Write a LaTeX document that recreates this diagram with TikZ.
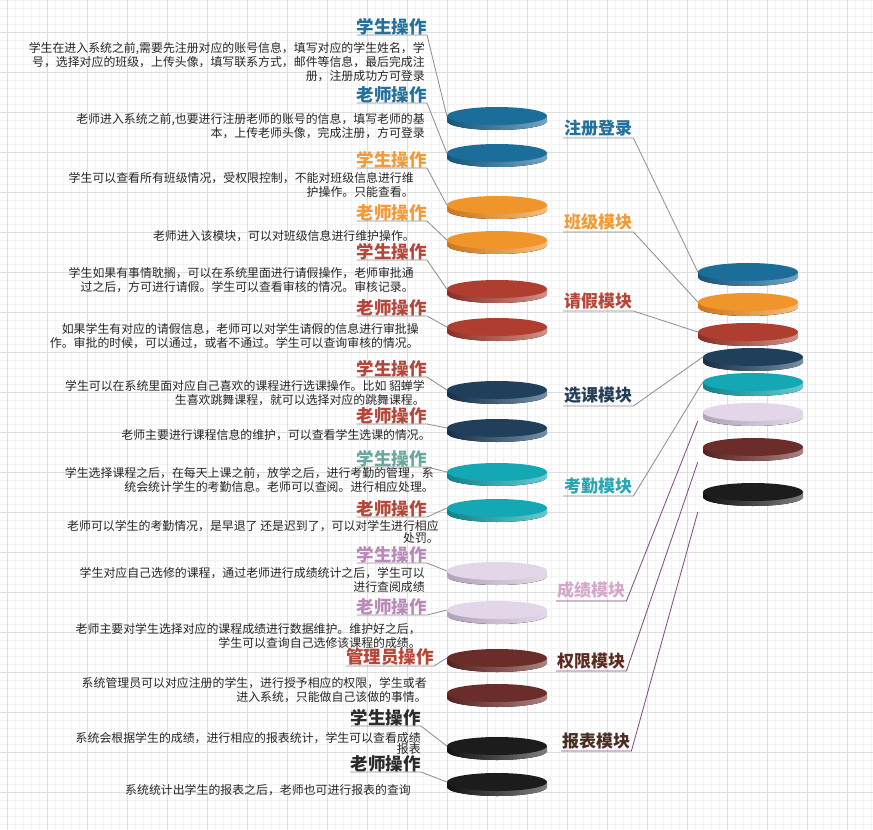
\documentclass[tikz,border=0pt]{standalone}
\usepackage{fontspec}
\newfontfamily\cjk{Noto Sans CJK SC}
\usetikzlibrary{shapes.geometric,calc}
\definecolor{cb}{RGB}{27,110,153}\definecolor{cbd}{RGB}{20,85,120}\definecolor{cbl}{RGB}{115,165,195}
\definecolor{co}{RGB}{240,149,42}\definecolor{cod}{RGB}{205,118,28}\definecolor{col}{RGB}{246,188,125}
\definecolor{cr}{RGB}{176,62,48}\definecolor{crd}{RGB}{138,46,36}\definecolor{crl}{RGB}{210,145,135}
\definecolor{cn}{RGB}{32,63,90}\definecolor{cnd}{RGB}{22,46,70}\definecolor{cnl}{RGB}{118,142,166}
\definecolor{ct}{RGB}{20,168,181}\definecolor{ctd}{RGB}{14,130,141}\definecolor{ctl}{RGB}{105,202,208}
\definecolor{cl}{RGB}{226,214,232}\definecolor{cld}{RGB}{178,163,184}\definecolor{cll}{RGB}{228,218,230}
\definecolor{cm}{RGB}{107,45,41}\definecolor{cmd}{RGB}{84,33,31}\definecolor{cml}{RGB}{170,130,130}
\definecolor{ck}{RGB}{28,28,28}\definecolor{ckd}{RGB}{17,17,17}\definecolor{ckl}{RGB}{125,125,125}
\definecolor{tb}{RGB}{35,112,156}\definecolor{to}{RGB}{242,154,53}\definecolor{tr}{RGB}{181,71,58}
\definecolor{tn}{RGB}{36,62,87}\definecolor{tt}{RGB}{43,165,179}\definecolor{tg}{RGB}{104,168,158}
\definecolor{tl}{RGB}{185,138,184}\definecolor{tp}{RGB}{212,168,203}\definecolor{tm}{RGB}{94,43,34}
\definecolor{tk}{RGB}{43,43,43}\definecolor{tw}{RGB}{74,46,37}
\definecolor{gmin}{RGB}{243,243,243}\definecolor{gmaj}{RGB}{222,222,222}
\tikzset{dsk/.style={ellipse,minimum width=100pt,minimum height=18pt,inner sep=0pt},
 ttl/.style={anchor=south east,inner sep=0pt,font=\cjk\bfseries\fontsize{17.5}{18}\selectfont},
 txt/.style={anchor=north east,inner sep=0pt,align=right,text=black!85,font=\cjk\fontsize{11.9}{14}\selectfont},
 mod/.style={anchor=south west,inner xsep=1pt,inner ysep=2pt,font=\cjk\bfseries\fontsize{17}{18}\selectfont},
 ldr/.style={draw=gray!90,line width=.8pt},ldp/.style={draw=violet!45!gray,line width=.8pt}}
\newcommand\cdisk[4]{\fill[left color=#4d,right color=#4l] (#2,#3+5) ellipse[x radius=50pt,y radius=9pt];
 \fill[left color=#4d,right color=#4l] (#2-50,#3) rectangle (#2+50,#3+5);
 \node[dsk,fill=#4] (#1) at (#2,#3) {};}
\begin{document}
\begin{tikzpicture}[x=1pt,y=-1pt]
\useasboundingbox (0,0) rectangle (873,830);
\fill[white] (0,0) rectangle (873,830);
\foreach \x in {7,15,...,871}{\draw[gmin,line width=.5pt] (\x,0)--(\x,830);}
\foreach \y in {0,8,...,830}{\draw[gmin,line width=.5pt] (0,\y)--(873,\y);}
\foreach \x in {7,47,...,871}{\draw[gmaj,line width=.8pt] (\x,0)--(\x,830);}
\foreach \y in {32,72,...,830}{\draw[gmaj,line width=.8pt] (0,\y)--(873,\y);}
\foreach \n/\y/\c in {1/116/cb,2/153/cb,3/205/co,4/240/co,5/289/cr,6/327/cr,7/390/cn,8/428/cn,
 9/472/ct,10/508/ct,11/571/cl,12/610/cl,13/658/cm,14/693/cm,15/746/ck,16/782/ck}{\cdisk{d\n}{497}{\y}{\c}}
\foreach \n/\x/\y/\c in {1/748/272/cb,2/748/302/co,3/748/332/cr,4/753/357/cn,5/753/382/ct,
 6/753/412/cl,7/753/447/cm,8/753/492/ck}{\cdisk{r\n}{\x}{\y}{\c}}
\node[ttl,text=tb] (t1) at (427,35) {学生操作};
\node[txt] (p1) at (425,42) {学生在进入系统之前,需要先注册对应的账号信息，填写对应的学生姓名，学\\号，选择对应的班级，上传头像，填写联系方式，邮件等信息，最后完成注\\册，注册成功方可登录};
\node[ttl,text=tb] (t2) at (427,103) {老师操作};
\node[txt] (p2) at (425,113) {老师进入系统之前,也要进行注册老师的账号的信息，填写老师的基\\本，上传老师头像，完成注册，方可登录};
\node[ttl,text=to] (t3) at (427,168) {学生操作};
\node[txt] (p3) at (414,172) {学生可以查看所有班级情况，受权限控制，不能对班级信息进行维\\护操作。只能查看。};
\node[ttl,text=to] (t4) at (427,221) {老师操作};
\node[txt] (p4) at (415,230) {老师进入该模块，可以对班级信息进行维护操作。};
\node[ttl,text=tr] (t5) at (427,260) {学生操作};
\node[txt] (p5) at (414,267) {学生如果有事情耽搁，可以在系统里面进行请假操作，老师审批通\\过之后，方可进行请假。学生可以查看审核的情况。审核记录。};
\node[ttl,text=tr] (t6) at (427,316) {老师操作};
\node[txt] (p6) at (419,323) {如果学生有对应的请假信息，老师可以对学生请假的信息进行审批操\\作。审批的时候，可以通过，或者不通过。学生可以查询审核的情况。};
\node[ttl,text=tr] (t7) at (427,377) {学生操作};
\node[txt] (p7) at (425,380) {学生可以在系统里面对应自己喜欢的课程进行选课操作。比如 貂蝉学\\生喜欢跳舞课程，就可以选择对应的跳舞课程。};
\node[ttl,text=tr] (t8) at (427,424) {老师操作};
\node[txt] (p8) at (431,429) {老师主要进行课程信息的维护，可以查看学生选课的情况。};
\node[ttl,text=tg] (t9) at (427,467) {学生操作};
\node[txt] (p9) at (434,467) {学生选择课程之后，在每天上课之前，放学之后，进行考勤的管理，系\\统会统计学生的考勤信息。老师可以查阅。进行相应处理。};
\node[ttl,text=tr] (t10) at (427,517) {老师操作};
\node[txt] (p10) at (439,520) {老师可以学生的考勤情况，是早退了 还是迟到了，可以对学生进行相应\\[-2pt]处罚。};
\node[ttl,text=tl] (t11) at (427,563) {学生操作};
\node[txt] (p11) at (425,567) {学生对应自己选修的课程，通过老师进行成绩统计之后，学生可以\\进行查阅成绩};
\node[ttl,text=tl] (t12) at (427,615) {老师操作};
\node[txt] (p12) at (421,623) {老师主要对学生选择对应的课程成绩进行数据维护。维护好之后，\\学生可以查询自己选修该课程的成绩。};
\node[ttl,text=tr] (t13) at (434,666) {管理员操作};
\node[txt] (p13) at (427,677) {系统管理员可以对应注册的学生，进行授予相应的权限，学生或者\\进入系统，只能做自己该做的事情。};
\node[ttl,text=tk] (t14) at (421,726) {学生操作};
\node[txt] (p14) at (421,732) {系统会根据学生的成绩，进行相应的报表统计，学生可以查看成绩\\[-3pt]报表};
\node[ttl,text=tk] (t15) at (421,772) {老师操作};
\node[txt] (p15) at (411,784) {系统统计出学生的报表之后，老师也可进行报表的查询};
\foreach \a/\b in {1/1,2/2,3/3,4/4,5/5,6/6,7/7,8/8,9/9,10/10,11/11,12/12,13/13,14/15,15/16}{
 \draw[ldr] (t\a.south west)--(t\a.south east)--(d\b.west);}
\node[mod,text=tb] (m1) at (563,138) {注册登录};
\node[mod,text=to] (m2) at (563,232) {班级模块};
\node[mod,text=tr] (m3) at (563,311) {请假模块};
\node[mod,text=tn] (m4) at (563,406) {选课模块};
\node[mod,text=tt] (m5) at (563,496) {考勤模块};
\node[mod,text=tp] (m6) at (556,601) {成绩模块};
\node[mod,text=tm] (m7) at (556,671) {权限模块};
\node[mod,text=tw] (m8) at (561,751) {报表模块};
\foreach \a in {1,...,5}{\draw[ldr] (m\a.south west)--(m\a.south east)--(r\a.west);}
\foreach \a/\d in {6/9,7/15,8/20}{\draw[ldp] (m\a.south west)--(m\a.south east)--([xshift=-5pt,yshift=-\d pt]r\a.west);}
\end{tikzpicture}
\end{document}
